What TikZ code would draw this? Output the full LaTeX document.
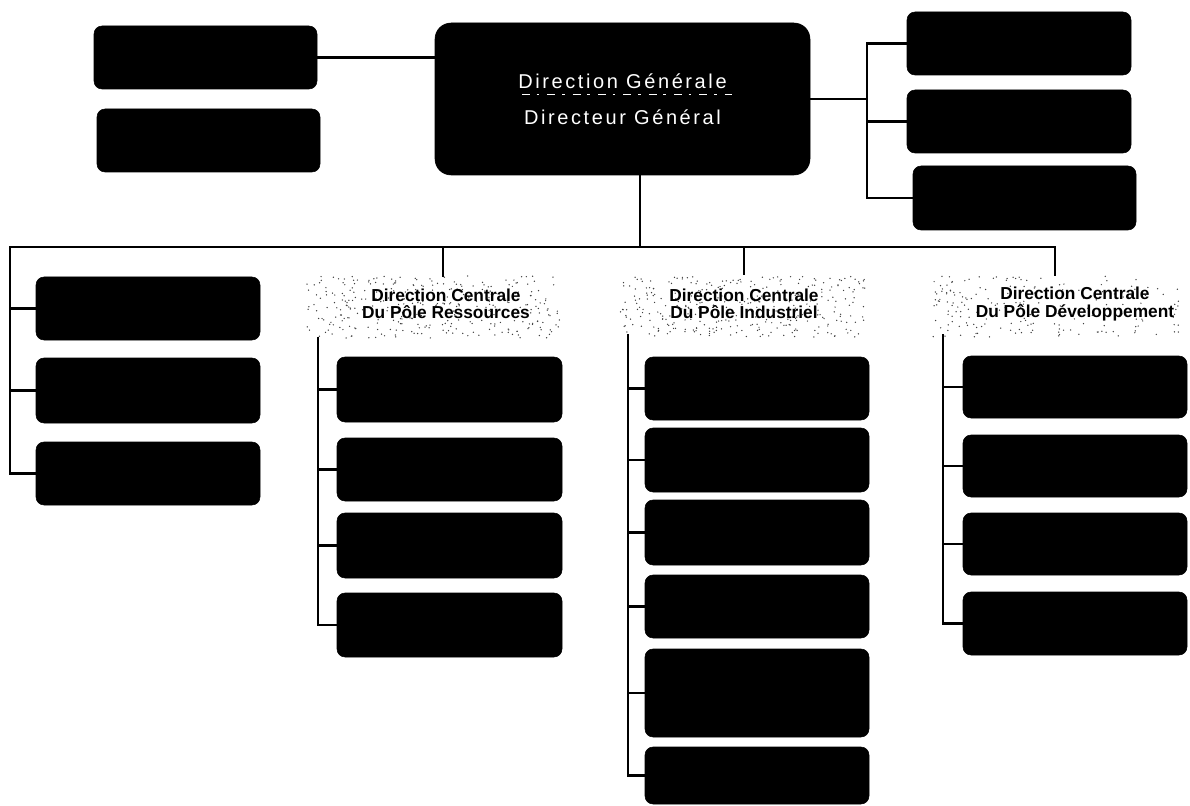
\documentclass[tikz,border=0pt]{standalone}
\usepackage{fontspec}
\setmainfont{Liberation Sans}
\begin{document}
\begin{tikzpicture}[x=0.75pt,y=-0.75pt,
  box/.style={fill=black,draw=black,rounded corners=6pt,inner sep=0pt,outer sep=0pt},
  mainbox/.style={box,rounded corners=12pt,text=white,align=center,font=\fontsize{15}{18}\selectfont\addfontfeature{LetterSpace=13}},
  head/.style={align=center,font=\fontsize{13}{13}\selectfont\bfseries,inner sep=0pt},
  conn/.style={line width=1.6pt,line cap=rect},
  speck/.style={fill=black!75}]
\useasboundingbox (0,0) rectangle (1190,806);
\newcommand\bx[6][]{\node[box,#1,minimum width={(#5-#3)*0.75pt},minimum height={(#6-#4)*0.75pt}] (#2) at ({(#3+#5)/2},{(#4+#6)/2}) {};}
% --- top row
\bx{TL1}{94}{26}{317}{89}
\bx{TL2}{97}{109}{320}{172}
\node[mainbox,minimum width={375*0.75pt},minimum height={152*0.75pt}] (main) at (622.5,99) {Direction Générale\\[9pt]Directeur Général};
\draw[white,line width=0.35pt,dash pattern=on 6pt off 5pt on 2pt off 6pt] (522,94) -- (732,94);
\bx{A}{907}{12}{1131}{75}
\bx{B}{907}{90}{1131}{153}
\bx{C}{913}{166}{1136}{230}
% --- left column
\bx{L1}{36}{277}{260}{340}
\bx{L2}{36}{358}{260}{423}
\bx{L3}{36}{442}{260}{505}
% --- ressources
\bx{R1}{337}{357}{562}{422}
\bx{R2}{337}{438}{562}{501}
\bx{R3}{337}{513}{562}{578}
\bx{R4}{337}{593}{562}{657}
% --- industriel
\bx{I1}{645}{357}{869}{420}
\bx{I2}{645}{428}{869}{492}
\bx{I3}{645}{500}{869}{565}
\bx{I4}{645}{575}{869}{638}
\bx{I5}{645}{649}{869}{737}
\bx{I6}{645}{747}{869}{804}
% --- developpement
\bx{D1}{963}{356}{1187}{418}
\bx{D2}{963}{435}{1187}{497}
\bx{D3}{963}{513}{1187}{575}
\bx{D4}{963}{592}{1187}{655}
% --- speckled heading backgrounds
\pgfmathsetseed{7}
\foreach \i in {1,...,330}{\fill[speck] ({307+253*rnd},{276+62*rnd}) circle (0.55pt);}
\foreach \i in {1,...,330}{\fill[speck] ({620+247*rnd},{276+61*rnd}) circle (0.55pt);}
\foreach \i in {1,...,110}{\fill[speck] ({933+100*rnd},{276+61*rnd}) circle (0.55pt);}
\foreach \i in {1,...,80}{\fill[speck] ({1030+150*rnd},{276+61*rnd}) circle (0.55pt);}
% --- headings
\node[head] (hR) at (446,304) {Direction Centrale\\Du Pôle Ressources};
\node[head] (hI) at (744,304) {Direction Centrale\\Du Pôle Industriel};
\node[head] (hD) at (1075,304) {Direction Centrale\\Du Pôle Développement};
% --- coordinates
\coordinate (busL) at (10,247);
\coordinate (busR) at (1055,247);
\coordinate (mDown) at (640,247);
\coordinate (rDrop) at (443,276);
\coordinate (iDrop) at (744,274);
\coordinate (dDrop) at (1055,275);
\coordinate (rTop) at (318,338);
\coordinate (iTop) at (628,335);
\coordinate (dTop) at (943,335);
\coordinate (rj) at (867,99);
% --- connectors
\draw[conn] (TL1.east) -- (TL1.east -| main.west);
\draw[conn] (main.east) -- (rj);
\draw[conn] (rj |- A.west) -- (rj |- C.west);
\foreach \n in {A,B,C}{\draw[conn] (rj |- \n.west) -- (\n.west);}
\draw[conn] (main.south -| mDown) -- (mDown);
\draw[conn] (busL) -- (busR) -- (dDrop);
\draw[conn] (rDrop |- busL) -- (rDrop);
\draw[conn] (iDrop |- busL) -- (iDrop);
\draw[conn] (busL) |- (L3.west);
\foreach \n in {L1,L2}{\draw[conn] (busL |- \n.west) -- (\n.west);}
\draw[conn] (rTop) |- (R4.west);
\foreach \n in {R1,R2,R3}{\draw[conn] (rTop |- \n.west) -- (\n.west);}
\draw[conn] (iTop) |- (I6.west);
\foreach \n in {I1,I2,I3,I4,I5}{\draw[conn] (iTop |- \n.west) -- (\n.west);}
\draw[conn] (dTop) |- (D4.west);
\foreach \n in {D1,D2,D3}{\draw[conn] (dTop |- \n.west) -- (\n.west);}
\end{tikzpicture}
\end{document}
